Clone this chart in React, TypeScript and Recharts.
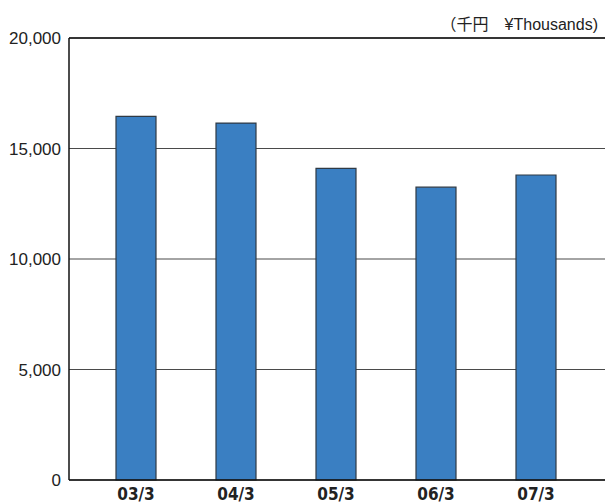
import React from 'react';
import {
  BarChart,
  Bar,
  XAxis,
  YAxis,
  CartesianGrid,
  ReferenceLine,
} from 'recharts';

const years = ['03/3', '04/3', '05/3', '06/3', '07/3'];
const values = [16450, 16150, 14100, 13250, 13800];
const yTicks = [0, 5000, 10000, 15000, 20000];
const unitLabel = '（千円\u3000¥Thousands)';

const data = years.map((year, i) => ({ year, value: values[i] }));

const App: React.FC = () => {
  return (
    <div style={{ position: 'absolute', left: 0, top: 0, width: 605, height: 504, background: '#fff' }}>
      <div
        style={{
          position: 'absolute',
          right: 7,
          top: 11,
          fontFamily: 'Arial, "Liberation Sans", "Noto Sans CJK JP", sans-serif',
          fontSize: 16,
          color: '#222',
          whiteSpace: 'nowrap',
        }}>
        {unitLabel}
      </div>
      <BarChart
        width={605}
        height={504}
        data={data}
        margin={{ top: 38, right: 0, bottom: 0, left: 0 }}>
        <CartesianGrid vertical={false} stroke='#4a4a4a' strokeWidth={1.2} />
        <ReferenceLine y={20000} stroke='#111' strokeWidth={1.5} />
        <XAxis
          dataKey='year'
          height={24}
          padding={{ left: 17, right: 19 }}
          tickLine={false}
          axisLine={{ stroke: '#111', strokeWidth: 1.5 }}
          tick={{
            fill: '#222',
            fontSize: 17,
            fontWeight: 'bold',
            fontFamily: '"Liberation Sans Narrow", "DejaVu Sans Condensed", Arial, sans-serif',
          }}
        />
        <YAxis
          width={69}
          domain={[0, 20000]}
          ticks={yTicks}
          interval={0}
          tickLine={false}
          axisLine={{ stroke: '#111', strokeWidth: 1.5 }}
          tickFormatter={(v: number) => v.toLocaleString('en-US')}
          tick={{
            fill: '#222',
            fontSize: 17,
            fontFamily: 'Arial, "Liberation Sans", sans-serif',
          }}
        />
        <Bar
          dataKey='value'
          barSize={40}
          fill='#3a7fc2'
          stroke='#2f3a45'
          strokeWidth={1.2}
          isAnimationActive={false}
        />
      </BarChart>
    </div>
  );
};

export default App;
